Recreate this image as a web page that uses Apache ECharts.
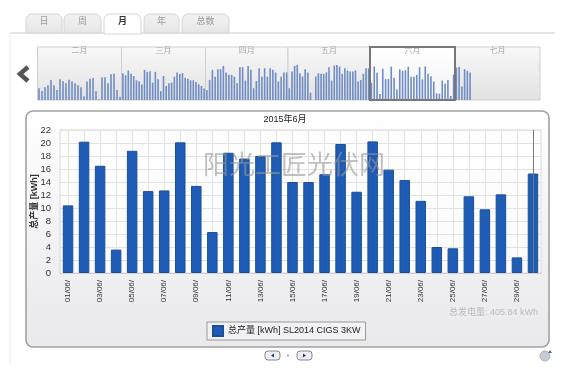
<!DOCTYPE html>
<html>
<head>
<meta charset="utf-8">
<style>
  html, body { margin: 0; padding: 0; background: #fff; }
  #chart { width: 580px; height: 375px; }
</style>
<script src="https://cdn.jsdelivr.net/npm/echarts@6/dist/echarts.min.js"></script>
</head>
<body>
<div id="chart"></div>
<script>
var juneDays = ['01/06/', '02/06/', '03/06/', '04/06/', '05/06/', '06/06/', '07/06/', '08/06/', '09/06/', '10/06/',
  '11/06/', '12/06/', '13/06/', '14/06/', '15/06/', '16/06/', '17/06/', '18/06/', '19/06/', '20/06/',
  '21/06/', '22/06/', '23/06/', '24/06/', '25/06/', '26/06/', '27/06/', '28/06/', '29/06/', '30/06/']
var juneValues = [10.4, 20.2, 16.5, 3.6, 18.8, 12.6, 12.7, 20.1, 13.4, 6.3,
  18.5, 17.6, 18.0, 20.1, 14.0, 14.0, 15.2, 19.85, 12.5, 20.25,
  15.9, 14.3, 11.1, 4.0, 3.8, 11.8, 9.8, 12.1, 2.4, 15.3]
var febValues = [7.1, 5.5, 7.7, 8.9, 12.1, 8.9, 6.1, 12.5, 11.3, 10.1, 12.3, 11.3, 10.1, 8.9,
  7.7, 2.2, 11.1, 12.9, 13.3, 5.3, 0.4, 13.7, 13.7, 10.1, 15.6, 15.8, 6.1, 2.0]
var marValues = [16.2, 14.9, 17.8, 15.8, 14.5, 11.9, 11.3, 9.3, 18.2, 17.0, 17.4, 10.5, 17.0, 12.5, 5.3, 14.5,
  8.5, 10.1, 10.5, 14.1, 16.6, 15.8, 16.2, 13.5, 12.9, 11.9, 11.9, 10.9, 9.5, 8.5, 6.9]
var aprValues = [6.1, 12.1, 18.2, 14.1, 18.6, 18.6, 20.6, 16.6, 15.2, 15.2, 14.1, 10.1, 19.8, 19.8, 11.7,
  20.6, 18.2, 7.1, 11.5, 19.2, 14.1, 19.2, 14.1, 19.2, 18.2, 16.6, 11.1, 14.1, 16.6, 16.6]
var mayValues = [7.1, 17.2, 20.6, 21.2, 16.2, 14.1, 18.6, 16.6, 4.4, 0, 14.1, 16.2, 15.8, 15.8, 16.6, 19.8,
  11.7, 20.8, 21.2, 20.2, 15.8, 19.2, 17.8, 17.2, 17.2, 17.8, 11.1, 12.1, 15.8, 19.2, 19.0]
var julValues = [19.6, 20.0, 8.1, 18.6, 17.6, 16.6]
var monthNames = ['二月', '三月', '四月', '五月', '六月', '七月']
var monthValues = [febValues, marValues, aprValues, mayValues, juneValues, julValues]
var monthDays = [28, 31, 30, 31, 30, 31]
var tabNames = ['日', '周', '月', '年', '总数']
var seriesName = '总产量 [kWh] SL2014 CIGS 3KW'
var yAxisName = '总产量 [kWh]'
var chartTitle = '2015年6月'
var totalText = '总发电量: 405.84 kWh'
var watermark = '阳光工匠光伏网'

var fontName = '"Liberation Sans", "Noto Sans CJK SC", sans-serif'
var overviewEdges = [37.5, 121.5, 205.5, 288, 370, 455, 540]
var tabEdges = [[26, 62], [64, 101], [104, 141], [144, 179], [182, 229]]

var grids = [{ left: 60, top: 130, width: 481, height: 143, show: true, backgroundColor: 'rgba(255,255,255,0.75)', borderColor: '#d8d8d8', borderWidth: 1 }]
var xAxes = [{
  type: 'category',
  gridIndex: 0,
  data: juneDays,
  axisLine: { lineStyle: { color: '#cfcfcf' } },
  // the reference draws its vertical lines through the bar centres
  axisTick: { show: true, inside: true, alignWithLabel: true, interval: 0, length: 143, lineStyle: { color: '#e4e4e4' } },
  axisLabel: { interval: 1, rotate: 90, fontSize: 8, color: '#333', fontFamily: fontName, margin: 7 }
}]
var yAxes = [{
  type: 'value',
  gridIndex: 0,
  min: 0,
  max: 22,
  interval: 2,
  name: yAxisName,
  nameLocation: 'middle',
  nameGap: 21,
  nameMoveOverlap: false,
  nameTextStyle: { fontSize: 9, fontWeight: 'bold', color: '#333', fontFamily: fontName },
  axisLine: { show: false },
  axisTick: { show: false },
  axisLabel: { fontSize: 9.5, color: '#333', fontFamily: fontName, margin: 9 },
  splitLine: { lineStyle: { color: '#e2e2e2' } }
}]
var series = [{
  name: seriesName,
  type: 'bar',
  xAxisIndex: 0,
  yAxisIndex: 0,
  data: juneValues,
  barWidth: 10.5,
  itemStyle: { color: '#1f5cb6', borderColor: '#1b4f9c', borderWidth: 1 },
  markLine: {
    silent: true,
    symbol: 'none',
    animation: false,
    label: { show: false },
    lineStyle: { color: '#777', width: 1, type: 'solid' },
    data: [{ xAxis: juneDays[29] }]
  }
}]
var titles = [
  { text: chartTitle, left: 285, top: 115, padding: 0, textAlign: 'center', textStyle: { fontSize: 9, fontWeight: 'normal', color: '#222', fontFamily: fontName } },
  { text: totalText, right: 42, top: 308, padding: 0, textStyle: { fontSize: 9, fontWeight: 'normal', color: '#bbb', fontFamily: fontName } }
]

// overview strip above the chart, one small grid per month
monthNames.forEach(function(name, i) {
  var selected = i === 4
  var days = []
  for (var d = 1; d <= monthDays[i]; d++) {
    days.push(String(d))
  }
  grids.push({
    left: overviewEdges[i],
    top: 47,
    width: overviewEdges[i + 1] - overviewEdges[i],
    height: 53,
    show: true,
    backgroundColor: new echarts.graphic.LinearGradient(0, 0, 0, 1, selected
      ? [{ offset: 0, color: '#ffffff' }, { offset: 1, color: '#f3f4f8' }]
      : [{ offset: 0, color: '#f8f8f8' }, { offset: 1, color: '#e2e2e2' }]),
    borderColor: '#cfcfcf',
    borderWidth: 1
  })
  xAxes.push({
    type: 'category',
    gridIndex: i + 1,
    data: days,
    axisLine: { show: false },
    axisTick: { show: false },
    axisLabel: { show: false }
  })
  yAxes.push({
    type: 'value',
    gridIndex: i + 1,
    min: 0,
    max: 32,
    show: false,
    splitLine: { show: false }
  })
  series.push({
    type: 'bar',
    name: name,
    xAxisIndex: i + 1,
    yAxisIndex: i + 1,
    data: monthValues[i],
    barWidth: 1.6,
    itemStyle: { color: '#6f8cc4' }
  })
  titles.push({
    text: name,
    left: (overviewEdges[i] + overviewEdges[i + 1]) / 2,
    top: 47,
    padding: 0,
    textAlign: 'center',
    textStyle: { fontSize: 8, fontWeight: 'normal', color: '#aaa', fontFamily: fontName }
  })
})

var graphics = [
  // page frame
  { type: 'line', z: -20, shape: { x1: 10, y1: 33, x2: 555, y2: 33 }, style: { stroke: '#ccc', lineWidth: 1 } },
  { type: 'line', z: -20, shape: { x1: 10, y1: 33, x2: 10, y2: 365 }, style: { stroke: '#eee', lineWidth: 1 } },
  // chart panel
  {
    type: 'rect',
    z: -10,
    shape: { x: 26, y: 111, width: 523, height: 236, r: 7 },
    style: {
      fill: new echarts.graphic.LinearGradient(0, 0, 0, 1, [
        { offset: 0, color: '#ffffff' },
        { offset: 0.5, color: '#f3f3f5' },
        { offset: 1, color: '#e9e9ec' }
      ]),
      stroke: '#a2a2a2',
      lineWidth: 1.6
    }
  },
  // selected month frame in the overview
  { type: 'rect', z: 8, shape: { x: 370, y: 47, width: 85, height: 53 }, style: { fill: 'none', stroke: '#777', lineWidth: 2 } },
  // left arrow
  { type: 'polyline', z: 5, shape: { points: [[28, 67], [20, 74], [28, 81]] }, style: { stroke: '#555', lineWidth: 4.5, fill: 'none' } },
  // pager below the panel
  { type: 'rect', z: 5, shape: { x: 265, y: 351, width: 15, height: 9, r: 3 }, style: { fill: '#eef0f5', stroke: '#888', lineWidth: 1 } },
  { type: 'polygon', z: 6, shape: { points: [[271, 355.5], [274, 353.5], [274, 357.5]] }, style: { fill: '#223a78' } },
  { type: 'circle', z: 5, shape: { cx: 288, cy: 355.5, r: 1 }, style: { fill: '#999' } },
  { type: 'rect', z: 5, shape: { x: 297, y: 351, width: 15, height: 9, r: 3 }, style: { fill: '#eef0f5', stroke: '#888', lineWidth: 1 } },
  { type: 'polygon', z: 6, shape: { points: [[306, 355.5], [303, 353.5], [303, 357.5]] }, style: { fill: '#223a78' } },
  // refresh icon
  { type: 'circle', z: 5, shape: { cx: 545, cy: 356, r: 5 }, style: { fill: '#c8ccd2', stroke: '#b0b4ba', lineWidth: 1 } },
  { type: 'polygon', z: 6, shape: { points: [[548, 353], [552, 353], [550, 350]] }, style: { fill: '#3a6ea8' } },
  // watermark
  {
    type: 'text',
    z: 100,
    x: 203,
    y: 151,
    style: { text: watermark, fontSize: 26, fontFamily: '"Noto Sans CJK SC", sans-serif', fill: 'rgba(150,150,150,0.6)' }
  }
]

tabNames.forEach(function(name, i) {
  var active = i === 2
  graphics.push({
    type: 'rect',
    z: 2,
    shape: { x: tabEdges[i][0], y: 14, width: tabEdges[i][1] - tabEdges[i][0], height: active ? 20 : 19, r: [6, 6, 0, 0] },
    style: {
      fill: active ? '#fff' : new echarts.graphic.LinearGradient(0, 0, 0, 1, [{ offset: 0, color: '#f2f2f2' }, { offset: 1, color: '#e6e6e6' }]),
      stroke: '#d4d4d4',
      lineWidth: 1
    }
  })
  graphics.push({
    type: 'text',
    z: 3,
    x: (tabEdges[i][0] + tabEdges[i][1]) / 2,
    y: 22,
    style: {
      text: name,
      align: 'center',
      verticalAlign: 'middle',
      fontSize: 9,
      fontWeight: active ? 'bold' : 'normal',
      fontFamily: fontName,
      fill: active ? '#333' : '#999'
    }
  })
})

var chart = echarts.init(document.getElementById('chart'))
chart.setOption({
  animation: false,
  backgroundColor: '#fff',
  title: titles,
  grid: grids,
  xAxis: xAxes,
  yAxis: yAxes,
  series: series,
  graphic: graphics,
  legend: {
    data: [{ name: seriesName, icon: 'rect' }],
    left: 207,
    top: 322,
    itemWidth: 10,
    itemHeight: 10,
    itemGap: 4,
    padding: [3, 5],
    borderColor: '#999',
    borderWidth: 1,
    backgroundColor: '#f2f2f4',
    textStyle: { fontSize: 9, color: '#222', fontFamily: fontName }
  }
})
</script>
</body>
</html>
